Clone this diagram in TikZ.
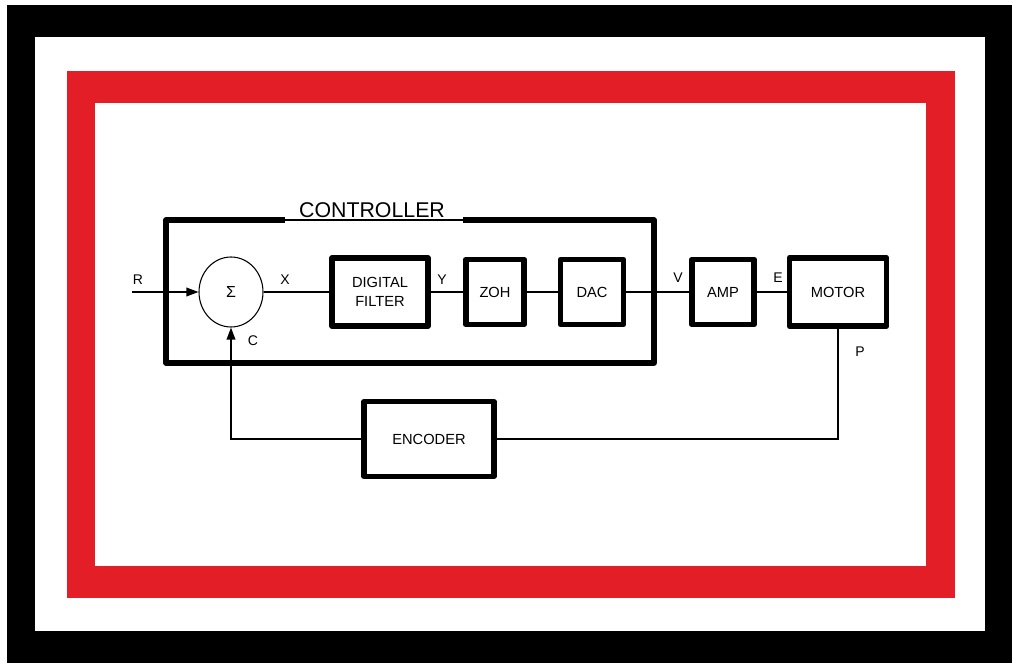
\documentclass[tikz,border=0pt]{standalone}
\usepackage{fontspec}
\setmainfont{Liberation Sans}
\usetikzlibrary{arrows.meta,shapes.geometric}
\definecolor{framered}{RGB}{227,30,39}
\begin{document}
\begin{tikzpicture}[x=0.75pt,y=-0.75pt,
    block/.style={draw,line width=4.2pt,line join=round,align=center,inner sep=0pt,font=\fontsize{11}{14}\selectfont},
    wire/.style={line width=1pt},
    lbl/.style={font=\fontsize{10.5}{12}\selectfont},
    tip/.style={-{Triangle[length=9pt,width=6.5pt]}}]
    \useasboundingbox (0,0) rectangle (1012,663);
    \fill[black] (7,5) rectangle (1012,663);
    \fill[white] (35,37) rectangle (985,631);
    \fill[framered] (67,71) rectangle (955,598);
    \fill[white] (95,103) rectangle (926,566);
    % controller frame
    \draw[line width=3.8pt,line join=round] (285,220) -- (166,220) -- (166,363) -- (654,363) -- (654,220) -- (463,220);
    \draw[wire] (285,220) -- (463,220);
    \node[font=\fontsize{16}{18}\selectfont,anchor=base] (ctrl) at (372,217) {CONTROLLER};
    % blocks
    \node[draw,ellipse,line width=0.8pt,minimum width=48pt,minimum height=52.5pt,inner sep=0pt,font=\fontsize{12}{14}\selectfont] (sum) at (231,292) {Σ};
    \node[block,minimum width=72pt,minimum height=51pt] (filter) at (380,292) {DIGITAL\\FILTER};
    \node[block,minimum width=43.5pt,minimum height=49pt] (zoh) at (495,292) {ZOH};
    \node[block,minimum width=47pt,minimum height=49pt] (dac) at (592,292) {DAC};
    \node[block,minimum width=46.5pt,minimum height=49pt] (amp) at (723,292) {AMP};
    \node[block,minimum width=73pt,minimum height=51pt] (motor) at (838,292) {MOTOR};
    \node[block,minimum width=97.5pt,minimum height=56pt] (encoder) at (429,439) {ENCODER};
    % signals
    \coordinate (rin) at (132,292);
    \draw[wire,tip] (rin) -- (sum);
    \draw[wire] (sum) -- (filter);
    \draw[wire] (filter) -- (zoh);
    \draw[wire] (zoh) -- (dac);
    \draw[wire] (dac) -- (amp);
    \draw[wire] (amp) -- (motor);
    \draw[wire] (motor.south) -- (motor.south |- encoder.east) -- (encoder.east);
    \draw[wire,tip] (encoder.west) -- (encoder.west -| sum.south) -- (sum.south);
    % labels
    \node[lbl] (lr) at (138,280) {R};
    \node[lbl] (lx) at (285,280) {X};
    \node[lbl] (ly) at (442,280) {Y};
    \node[lbl] (lc) at (253,341) {C};
    \node[lbl] (lv) at (678,278) {V};
    \node[lbl] (le) at (778,278) {E};
    \node[lbl] (lp) at (860,352) {P};
\end{tikzpicture}
\end{document}
